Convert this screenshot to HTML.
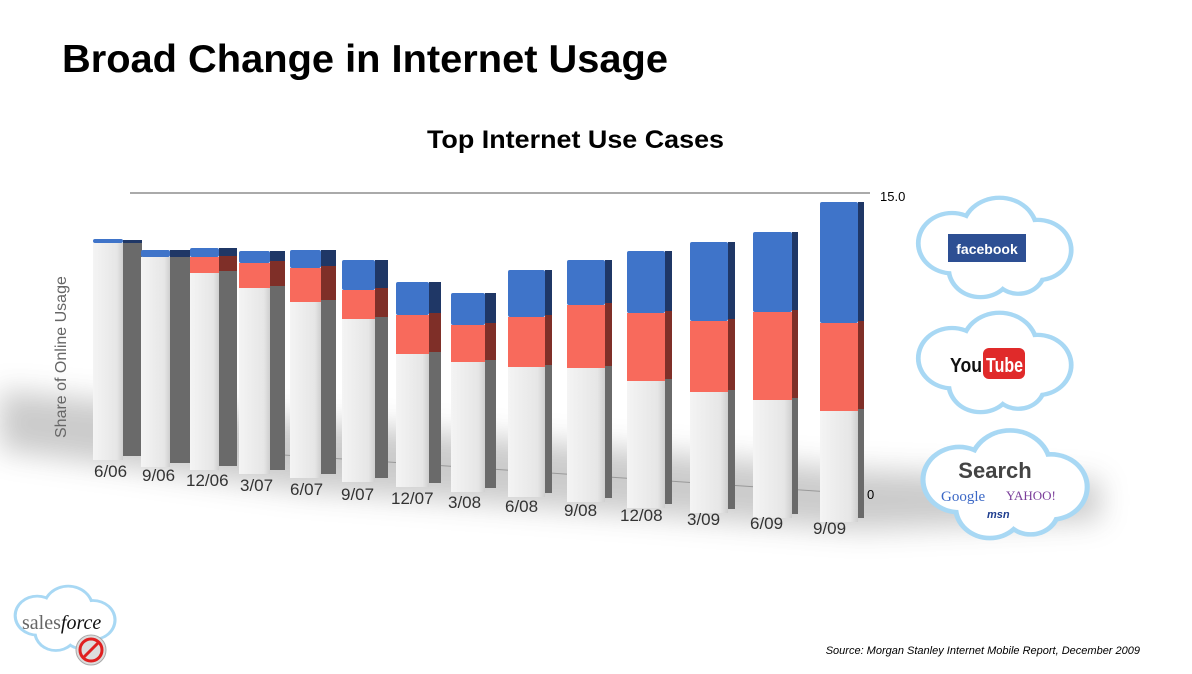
<!DOCTYPE html>
<html><head><meta charset="utf-8"><style>
html,body{margin:0;padding:0;background:#fff;}
svg{display:block}
</style></head><body>
<svg width="1192" height="674" viewBox="0 0 1192 674" xmlns="http://www.w3.org/2000/svg" font-family="Liberation Sans, sans-serif">
<defs>
<filter id="bl" x="-20%" y="-100%" width="140%" height="300%"><feGaussianBlur stdDeviation="14"/></filter>
<linearGradient id="wf" x1="0" x2="1"><stop offset="0" stop-color="#f4f4f4"/><stop offset="0.8" stop-color="#e6e6e6"/><stop offset="1" stop-color="#cfcfcf"/></linearGradient>
<g id="cloud"><g fill="#a8d8f4"><circle cx="-40" cy="-8" r="38"/><circle cx="10" cy="-22" r="42"/><circle cx="50" cy="0" r="38"/><circle cx="-10" cy="22" r="36"/><circle cx="30" cy="24" r="30"/></g><g fill="#fff"><circle cx="-40" cy="-8" r="33"/><circle cx="10" cy="-22" r="37"/><circle cx="50" cy="0" r="33"/><circle cx="-10" cy="22" r="31"/><circle cx="30" cy="24" r="25"/><ellipse cx="5" cy="2" rx="50" ry="35" fill="#fff"/></g></g>
</defs>
<text x="62" y="72" font-size="39" font-weight="bold" fill="#000" textLength="606" lengthAdjust="spacingAndGlyphs">Broad Change in Internet Usage</text>
<text x="427" y="148" font-size="25" font-weight="bold" fill="#000" textLength="297" lengthAdjust="spacingAndGlyphs">Top Internet Use Cases</text>
<path d="M0,390 L300,420 L860,470 L1100,480 L1100,520 L860,530 L300,490 L0,450 Z" fill="#777" opacity="0.38" filter="url(#bl)"/>
<line x1="130" y1="193" x2="870" y2="193" stroke="#aaa" stroke-width="2"/>
<line x1="240" y1="452" x2="860" y2="494" stroke="#999" stroke-width="1"/>
<text x="880" y="201" font-size="13" fill="#000">15.0</text>
<text x="867" y="499" font-size="13" fill="#000">0</text>
<text transform="translate(66,438) rotate(-90)" font-size="16" fill="#666">Share of Online Usage</text>
<g id="bars">
<g><rect x="123" y="242" width="19" height="214" fill="#6a6a6a"/><rect x="93" y="243" width="30" height="217" fill="url(#wf)"/><rect x="123" y="240" width="19" height="3" fill="#1f3766"/><rect x="93" y="239" width="30" height="4" rx="2" fill="#3f74c9"/></g>
<g><rect x="170" y="252" width="20" height="211" fill="#6a6a6a"/><rect x="141" y="257" width="29" height="210" fill="url(#wf)"/><rect x="170" y="250" width="20" height="7" fill="#1f3766"/><rect x="141" y="250" width="29" height="7" rx="2" fill="#3f74c9"/></g>
<g><rect x="219" y="270" width="18" height="196" fill="#6a6a6a"/><rect x="190" y="273" width="29" height="197" fill="url(#wf)"/><rect x="219" y="255" width="18" height="16" fill="#7f2f28"/><rect x="190" y="257" width="29" height="16" fill="#f86a5c"/><rect x="219" y="248" width="18" height="8" fill="#1f3766"/><rect x="190" y="248" width="29" height="9" rx="2" fill="#3f74c9"/></g>
<g><rect x="270" y="285" width="15" height="185" fill="#6a6a6a"/><rect x="239" y="288" width="31" height="186" fill="url(#wf)"/><rect x="270" y="261" width="15" height="25" fill="#7f2f28"/><rect x="239" y="263" width="31" height="25" fill="#f86a5c"/><rect x="270" y="251" width="15" height="10" fill="#1f3766"/><rect x="239" y="251" width="31" height="12" rx="2" fill="#3f74c9"/></g>
<g><rect x="321" y="299" width="15" height="175" fill="#6a6a6a"/><rect x="290" y="302" width="31" height="176" fill="url(#wf)"/><rect x="321" y="266" width="15" height="34" fill="#7f2f28"/><rect x="290" y="268" width="31" height="34" fill="#f86a5c"/><rect x="321" y="250" width="15" height="16" fill="#1f3766"/><rect x="290" y="250" width="31" height="18" rx="2" fill="#3f74c9"/></g>
<g><rect x="375" y="316" width="13" height="162" fill="#6a6a6a"/><rect x="342" y="319" width="33" height="163" fill="url(#wf)"/><rect x="375" y="288" width="13" height="29" fill="#7f2f28"/><rect x="342" y="290" width="33" height="29" fill="#f86a5c"/><rect x="375" y="260" width="13" height="28" fill="#1f3766"/><rect x="342" y="260" width="33" height="30" rx="2" fill="#3f74c9"/></g>
<g><rect x="429" y="351" width="12" height="132" fill="#6a6a6a"/><rect x="396" y="354" width="33" height="133" fill="url(#wf)"/><rect x="429" y="313" width="12" height="39" fill="#7f2f28"/><rect x="396" y="315" width="33" height="39" fill="#f86a5c"/><rect x="429" y="282" width="12" height="31" fill="#1f3766"/><rect x="396" y="282" width="33" height="33" rx="2" fill="#3f74c9"/></g>
<g><rect x="485" y="359" width="11" height="129" fill="#6a6a6a"/><rect x="451" y="362" width="34" height="130" fill="url(#wf)"/><rect x="485" y="323" width="11" height="37" fill="#7f2f28"/><rect x="451" y="325" width="34" height="37" fill="#f86a5c"/><rect x="485" y="293" width="11" height="30" fill="#1f3766"/><rect x="451" y="293" width="34" height="32" rx="2" fill="#3f74c9"/></g>
<g><rect x="545" y="364" width="7" height="129" fill="#6a6a6a"/><rect x="508" y="367" width="37" height="130" fill="url(#wf)"/><rect x="545" y="315" width="7" height="50" fill="#7f2f28"/><rect x="508" y="317" width="37" height="50" fill="#f86a5c"/><rect x="545" y="270" width="7" height="45" fill="#1f3766"/><rect x="508" y="270" width="37" height="47" rx="2" fill="#3f74c9"/></g>
<g><rect x="605" y="365" width="7" height="133" fill="#6a6a6a"/><rect x="567" y="368" width="38" height="134" fill="url(#wf)"/><rect x="605" y="303" width="7" height="63" fill="#7f2f28"/><rect x="567" y="305" width="38" height="63" fill="#f86a5c"/><rect x="605" y="260" width="7" height="43" fill="#1f3766"/><rect x="567" y="260" width="38" height="45" rx="2" fill="#3f74c9"/></g>
<g><rect x="665" y="378" width="7" height="126" fill="#6a6a6a"/><rect x="627" y="381" width="38" height="127" fill="url(#wf)"/><rect x="665" y="311" width="7" height="68" fill="#7f2f28"/><rect x="627" y="313" width="38" height="68" fill="#f86a5c"/><rect x="665" y="251" width="7" height="60" fill="#1f3766"/><rect x="627" y="251" width="38" height="62" rx="2" fill="#3f74c9"/></g>
<g><rect x="728" y="389" width="7" height="120" fill="#6a6a6a"/><rect x="690" y="392" width="38" height="121" fill="url(#wf)"/><rect x="728" y="319" width="7" height="71" fill="#7f2f28"/><rect x="690" y="321" width="38" height="71" fill="#f86a5c"/><rect x="728" y="242" width="7" height="77" fill="#1f3766"/><rect x="690" y="242" width="38" height="79" rx="2" fill="#3f74c9"/></g>
<g><rect x="792" y="397" width="6" height="117" fill="#6a6a6a"/><rect x="753" y="400" width="39" height="118" fill="url(#wf)"/><rect x="792" y="310" width="6" height="88" fill="#7f2f28"/><rect x="753" y="312" width="39" height="88" fill="#f86a5c"/><rect x="792" y="232" width="6" height="78" fill="#1f3766"/><rect x="753" y="232" width="39" height="80" rx="2" fill="#3f74c9"/></g>
<g><rect x="858" y="408" width="6" height="110" fill="#6a6a6a"/><rect x="820" y="411" width="38" height="111" fill="url(#wf)"/><rect x="858" y="321" width="6" height="88" fill="#7f2f28"/><rect x="820" y="323" width="38" height="88" fill="#f86a5c"/><rect x="858" y="202" width="6" height="119" fill="#1f3766"/><rect x="820" y="202" width="38" height="121" rx="2" fill="#3f74c9"/></g>
</g>
<g font-size="17" fill="#333">
<text x="94" y="477">6/06</text><text x="142" y="481">9/06</text><text x="186" y="486">12/06</text><text x="240" y="491">3/07</text><text x="290" y="495">6/07</text><text x="341" y="500">9/07</text><text x="391" y="504">12/07</text><text x="448" y="508">3/08</text><text x="505" y="512">6/08</text><text x="564" y="516">9/08</text><text x="620" y="521">12/08</text><text x="687" y="525">3/09</text><text x="750" y="529">6/09</text><text x="813" y="534">9/09</text>
</g>
<use href="#cloud" transform="translate(990,250) scale(0.95,0.85)"/>
<rect x="948" y="234" width="78" height="28" fill="#2d4f93"/>
<text x="987" y="254" font-size="14" font-weight="bold" fill="#fff" text-anchor="middle">facebook</text>
<use href="#cloud" transform="translate(990,365) scale(0.95,0.85)"/>
<text x="950" y="372" font-size="20" font-weight="bold" fill="#111" textLength="32" lengthAdjust="spacingAndGlyphs">You</text>
<rect x="983" y="348" width="42" height="31" rx="6" fill="#e02a2a"/>
<text x="986" y="372" font-size="20" font-weight="bold" fill="#fff" textLength="37" lengthAdjust="spacingAndGlyphs">Tube</text>
<use href="#cloud" transform="translate(1000,487) scale(1.02,0.92)"/>
<text x="995" y="478" font-size="22" font-weight="bold" fill="#444" text-anchor="middle">Search</text>
<text x="941" y="501" font-size="15" font-family="Liberation Serif, serif" fill="#3b68c6">Google</text>
<text x="1006" y="500" font-size="13" font-family="Liberation Serif, serif" fill="#7b3e9a">YAHOO!</text>
<text x="987" y="518" font-size="11" font-weight="bold" font-style="italic" fill="#1e3d8f">msn</text>
<use href="#cloud" transform="translate(62,620) scale(0.62,0.55)"/>
<text x="22" y="629" font-size="20" font-family="Liberation Serif, serif" fill="#666">sales<tspan fill="#111" font-style="italic">force</tspan></text>
<circle cx="91" cy="650" r="15" fill="#ddd" stroke="#aaa"/>
<circle cx="91" cy="650" r="11" fill="none" stroke="#e02020" stroke-width="3"/>
<line x1="83" y1="658" x2="99" y2="642" stroke="#e02020" stroke-width="3"/>
<text x="1140" y="654" font-size="11" font-style="italic" fill="#000" text-anchor="end">Source:  Morgan Stanley Internet Mobile Report, December 2009</text>
</svg>
</body></html>
